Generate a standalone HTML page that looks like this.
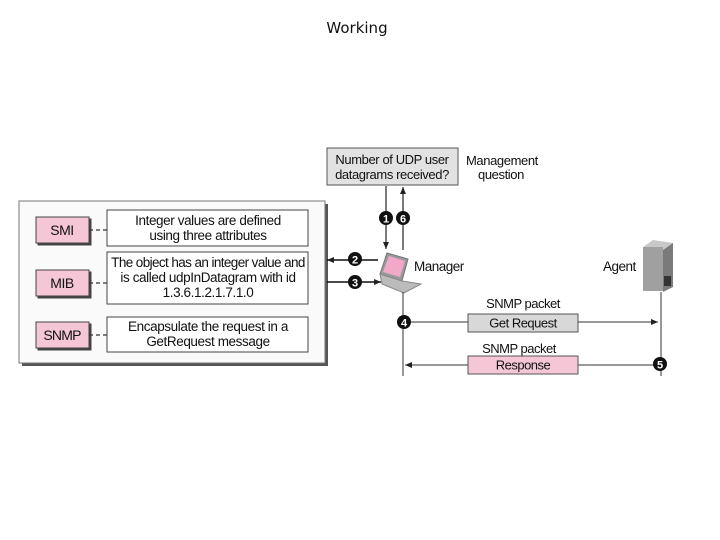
<!DOCTYPE html>
<html><head><meta charset="utf-8"><style>
body{margin:0;background:#fff;width:720px;height:540px;overflow:hidden}
svg{display:block}
text{font-family:"Liberation Sans",Arial,sans-serif;fill:#111}
</style></head><body>
<svg width="720" height="540" viewBox="0 0 720 540" xmlns="http://www.w3.org/2000/svg">
<defs>
<marker id="ah" markerWidth="8" markerHeight="8" refX="7" refY="4" orient="auto" markerUnits="userSpaceOnUse"><path d="M0,1 L7,4 L0,7 Z" fill="#222"/></marker>
</defs>
<text x="357" y="33" text-anchor="middle" font-size="15" style="font-family:'DejaVu Sans',sans-serif">Working</text>

<rect x="327" y="148" width="131" height="37" fill="#e2e2e2" stroke="#555" stroke-width="1"/>
<text x="392" y="164" text-anchor="middle" font-size="13" letter-spacing="-0.4">Number of UDP user</text>
<text x="392" y="179" text-anchor="middle" font-size="13" letter-spacing="-0.4">datagrams received?</text>
<text x="466" y="165" font-size="13" letter-spacing="-0.4">Management</text>
<text x="478" y="179" font-size="13" letter-spacing="-0.4">question</text>

<line x1="386" y1="186" x2="386" y2="249" stroke="#222" stroke-width="1.2" marker-end="url(#ah)"/>
<line x1="403" y1="250" x2="403" y2="187" stroke="#222" stroke-width="1.2" marker-end="url(#ah)"/>
<circle cx="386" cy="218" r="7" fill="#111"/><text x="386" y="222.5" text-anchor="middle" font-size="11" font-weight="bold" style="fill:#fff">1</text>
<circle cx="403" cy="218" r="7" fill="#111"/><text x="403" y="222.5" text-anchor="middle" font-size="11" font-weight="bold" style="fill:#fff">6</text>

<rect x="22" y="204" width="306" height="162" fill="#555"/>
<rect x="19" y="201" width="306" height="162" fill="#fafafa" stroke="#777" stroke-width="1"/>

<g stroke="#444" stroke-width="1">
<rect x="38" y="219" width="53" height="26" fill="#444"/>
<rect x="36" y="217" width="53" height="26" fill="#f4c6d6"/>
<rect x="38" y="272" width="53" height="26" fill="#444"/>
<rect x="36" y="270" width="53" height="26" fill="#f4c6d6"/>
<rect x="38" y="324" width="53" height="26" fill="#444"/>
<rect x="36" y="322" width="53" height="26" fill="#f4c6d6"/>
</g>
<text x="62" y="235" text-anchor="middle" font-size="14" letter-spacing="-0.5">SMI</text>
<text x="62" y="288" text-anchor="middle" font-size="14" letter-spacing="-0.5">MIB</text>
<text x="62" y="340" text-anchor="middle" font-size="14" letter-spacing="-0.8">SNMP</text>
<g stroke="#333" stroke-width="1.2">
<line x1="89" y1="230" x2="107" y2="230" stroke-dasharray="4,3"/>
<line x1="89" y1="283" x2="107" y2="283" stroke-dasharray="4,3"/>
<line x1="89" y1="335" x2="107" y2="335" stroke-dasharray="4,3"/>
</g>
<g fill="#fff" stroke="#444" stroke-width="1">
<rect x="107" y="210" width="201" height="36"/>
<rect x="107" y="252" width="201" height="52"/>
<rect x="107" y="317" width="201" height="35"/>
</g>
<g font-size="13.5" text-anchor="middle" letter-spacing="-0.4">
<text x="208" y="225">Integer values are defined</text>
<text x="208" y="240">using three attributes</text>
<text x="208" y="267" letter-spacing="-0.6">The object has an integer value and</text>
<text x="208" y="282">is called udpInDatagram with id</text>
<text x="208" y="297">1.3.6.1.2.1.7.1.0</text>
<text x="208" y="331">Encapsulate the request in a</text>
<text x="208" y="346">GetRequest message</text>
</g>

<line x1="378" y1="260" x2="327" y2="260" stroke="#111" stroke-width="1.5" marker-end="url(#ah)"/>
<line x1="327" y1="282" x2="381" y2="282" stroke="#111" stroke-width="1.5" marker-end="url(#ah)"/>
<circle cx="355" cy="259" r="7" fill="#111"/><text x="355" y="263.5" text-anchor="middle" font-size="11" font-weight="bold" style="fill:#fff">2</text>
<circle cx="355" cy="282" r="7" fill="#111"/><text x="355" y="286.5" text-anchor="middle" font-size="11" font-weight="bold" style="fill:#fff">3</text>

<polygon points="387,253 408,259 402,281 380,274" fill="#999" stroke="#777"/>
<polygon points="389,256 405,261 400,277 383,272" fill="#f2a8c8"/>
<polygon points="380,274 402,281 421,284 404,293 382,284" fill="#bbb" stroke="#888"/>
<line x1="403" y1="292" x2="403" y2="376" stroke="#333" stroke-width="1"/>
<text x="414" y="271" font-size="13.5" letter-spacing="-0.5">Manager</text>

<text x="603" y="271" font-size="13.5" letter-spacing="-0.5">Agent</text>
<polygon points="643,247 653,240 673,243 663,250" fill="#c8c8c8"/>
<rect x="643" y="247" width="20" height="44" fill="#a0a0a0"/>
<polygon points="663,250 673,243 673,287 663,292" fill="#7a7a7a"/>
<rect x="664" y="276" width="7" height="10" fill="#333"/>
<line x1="661" y1="292" x2="661" y2="376" stroke="#333" stroke-width="1"/>

<text x="523" y="308" text-anchor="middle" font-size="13" letter-spacing="-0.5">SNMP packet</text>
<line x1="403" y1="322" x2="658" y2="322" stroke="#333" stroke-width="1" marker-end="url(#ah)"/>
<rect x="468" y="314" width="110" height="18" fill="#d8d8d8" stroke="#555"/>
<text x="523" y="327.5" text-anchor="middle" font-size="13" letter-spacing="-0.5">Get Request</text>
<circle cx="404" cy="322" r="7" fill="#111"/><text x="404" y="326.5" text-anchor="middle" font-size="11" font-weight="bold" style="fill:#fff">4</text>

<text x="519" y="353" text-anchor="middle" font-size="13" letter-spacing="-0.5">SNMP packet</text>
<line x1="660" y1="365" x2="405" y2="365" stroke="#333" stroke-width="1" marker-end="url(#ah)"/>
<rect x="468" y="356" width="110" height="18" fill="#f4c6d6" stroke="#555"/>
<text x="523" y="369.5" text-anchor="middle" font-size="13" letter-spacing="-0.5">Response</text>
<circle cx="660" cy="364" r="7" fill="#111"/><text x="660" y="368.5" text-anchor="middle" font-size="11" font-weight="bold" style="fill:#fff">5</text>
</svg>
</body></html>
